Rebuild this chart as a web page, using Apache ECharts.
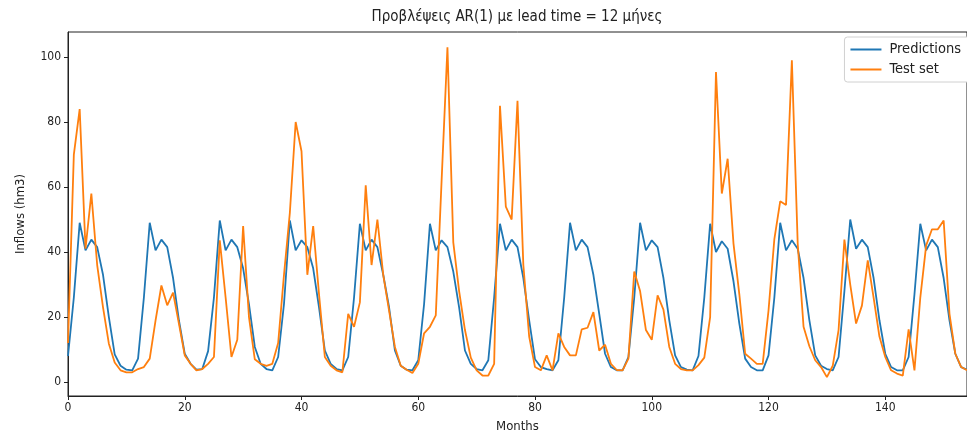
<!DOCTYPE html>
<html>
<head>
<meta charset="utf-8">
<script src="https://cdn.jsdelivr.net/npm/echarts@6/dist/echarts.min.js"></script>
<style>
html,body{margin:0;padding:0;background:#fff;}
#chart{width:967px;height:443px;}
</style>
</head>
<body>
<div id="chart"></div>
<script>
const titleText = 'Προβλέψεις AR(1) με lead time = 12 μήνες';
const xName = 'Months';
const yName = 'Inflows (hm3)';
const seriesNames = ['Predictions', 'Test set'];

const predictions = [
  8, 26, 49, 40.5, 43.8, 41.5, 33, 20, 8.5, 5, 3.8, 3.6,
  7.2, 26, 49, 40.5, 43.8, 41.5, 32, 19, 8.7, 5.6, 3.8, 4,
  9.5, 26, 49.7, 40.5, 43.8, 41.5, 35, 24, 10.8, 5.6, 4, 3.6,
  7.7, 24, 49.7, 40.5, 43.6, 41.5, 35, 23, 9.7, 5.6, 4, 3.6,
  7.7, 26, 48.7, 40.5, 43.8, 41.5, 33, 23, 9.7, 5, 3.8, 3.6,
  6.7, 24, 48.7, 40.5, 43.6, 41.5, 34, 23, 9.7, 5.6, 4, 3.6,
  6.7, 26, 48.7, 40.5, 43.8, 41.5, 32, 19, 7, 4.6, 4, 3.6,
  6.7, 26, 49, 40.5, 43.8, 41.5, 33, 21, 8.7, 4.6, 3.6, 3.6,
  7.7, 26, 49, 40.5, 43.6, 41.5, 32, 19, 8.2, 4.6, 3.8, 3.6,
  8, 26, 48.7, 40, 43.3, 41, 31, 18, 7.2, 4.6, 3.6, 3.6,
  8.2, 26, 49, 40.5, 43.6, 41, 32, 19, 8.2, 5, 4, 3.6,
  7.7, 28, 50, 41, 43.8, 41.5, 32, 19, 8.7, 4.6, 3.6, 3.6,
  7.7, 27, 48.7, 40.5, 43.8, 41.5, 32, 19, 8.7, 4.6, 3.8
];

const testSet = [
  12, 70, 84, 41, 58, 36, 23, 11.8, 6, 3.6, 3, 3,
  4, 4.6, 7.2, 19, 29.7, 23.6, 27.5, 18, 8.2, 5.6, 3.6, 4,
  5.6, 7.7, 43.6, 26, 7.7, 13, 48, 20, 7, 5.6, 5, 5.6,
  12, 33, 52, 80, 71, 33, 48, 27, 7.7, 5, 3.6, 3,
  21, 17, 24.5, 60.5, 36, 50, 33, 22, 10.8, 5, 3.8, 2.8,
  5.6, 15, 17, 20.5, 62, 103, 43, 28, 16, 7.5, 3.6, 2,
  2, 5.6, 85, 54, 50, 86.5, 36, 14, 4.6, 3.6, 8.2, 3.6,
  15, 10.8, 8.2, 8.2, 16.2, 16.7, 21.5, 9.7, 11.5, 5.6, 3.7, 3.6,
  7.2, 34, 28, 16, 13, 26.7, 22.3, 10.8, 5.6, 4, 3.6, 3.6,
  5.2, 7.5, 20, 95.4, 58, 68.7, 42.6, 27, 8.7, 7.2, 5.6, 5.6,
  22, 44, 55.6, 54.5, 99, 42.6, 17, 11, 6.7, 4.6, 1.5, 5,
  16, 43.8, 30, 18, 23.5, 37.4, 26, 14, 7.7, 3.6, 2.6, 2,
  16.2, 3.6, 26, 42, 47, 47, 49.7, 21, 8.7, 4.6, 3.6
];

const xRange = [0, 154];
const yRange = [-4.3, 107.7];

const FONT = '"DejaVu Sans Condensed", "DejaVu Sans", sans-serif';
const toPairs = arr => arr.map((v, i) => [i, v]);

const chart = echarts.init(document.getElementById('chart'), null, {renderer: 'canvas'});
chart.setOption({
  animation: false,
  backgroundColor: '#ffffff',
  title: {
    text: titleText,
    left: 512,
    textAlign: 'center',
    top: 5,
    textStyle: {fontFamily: FONT, fontSize: 15, fontWeight: 'normal', color: '#222'}
  },
  legend: {
    orient: 'vertical',
    right: -4,
    top: 37,
    padding: [5, 10, 5, 6],
    itemGap: 5,
    itemWidth: 31,
    itemHeight: 2,
    icon: 'rect',
    backgroundColor: '#ffffff',
    borderColor: '#d0d0d0',
    borderWidth: 1,
    borderRadius: 3,
    textStyle: {fontFamily: FONT, fontSize: 14.5, color: '#222', padding: [0, 0, 0, 3]},
    data: seriesNames
  },
  grid: {
    left: 68, right: 0, top: 32, bottom: 47,
    show: true, borderColor: '#222', borderWidth: 1, backgroundColor: 'transparent'
  },
  xAxis: {
    type: 'value',
    min: xRange[0], max: xRange[1],
    splitNumber: 7,
    name: xName,
    nameLocation: 'middle',
    nameGap: 24,
    nameTextStyle: {fontFamily: FONT, fontSize: 13, color: '#222'},
    axisLine: {show: true, onZero: false, lineStyle: {color: '#222', width: 1}},
    axisTick: {show: true, length: 4, lineStyle: {color: '#222'}},
    axisLabel: {fontFamily: FONT, fontSize: 12, color: '#222', margin: 6, showMaxLabel: false},
    splitLine: {show: false}
  },
  yAxis: {
    type: 'value',
    min: yRange[0], max: yRange[1],
    splitNumber: 5,
    name: yName,
    nameLocation: 'middle',
    nameGap: 41,
    nameTextStyle: {fontFamily: FONT, fontSize: 13, color: '#222'},
    axisLine: {show: true, onZero: false, lineStyle: {color: '#222', width: 1}},
    axisTick: {show: true, length: 4, lineStyle: {color: '#222'}},
    axisLabel: {fontFamily: FONT, fontSize: 12, color: '#222', margin: 7, showMinLabel: false, showMaxLabel: false},
    splitLine: {show: false}
  },
  series: [
    {
      name: seriesNames[0],
      type: 'line',
      data: toPairs(predictions),
      showSymbol: false,
      symbol: 'none',
      color: '#1f77b4',
      lineStyle: {color: '#1f77b4', width: 1.8},
      z: 2
    },
    {
      name: seriesNames[1],
      type: 'line',
      data: toPairs(testSet),
      showSymbol: false,
      symbol: 'none',
      color: '#ff7f0e',
      lineStyle: {color: '#ff7f0e', width: 1.8},
      z: 3
    }
  ]
});
</script>
</body>
</html>
